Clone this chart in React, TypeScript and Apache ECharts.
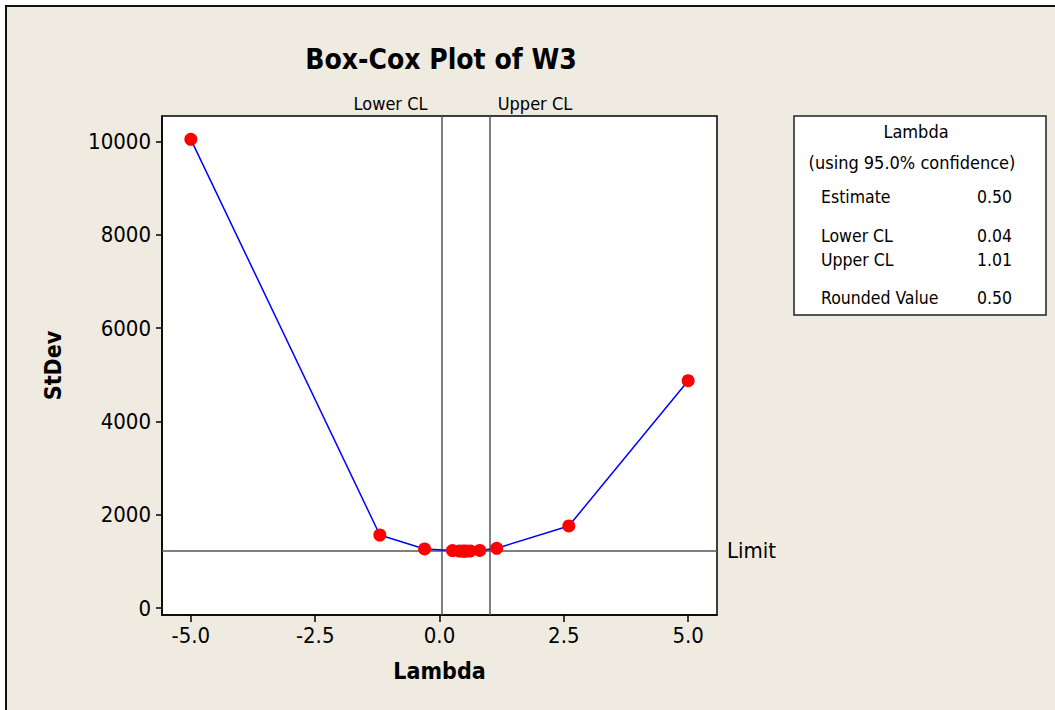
import React, { useEffect, useRef } from "react";
import * as echarts from "echarts";

const lambdas = [-5.0, -1.2, -0.3, 0.26, 0.4, 0.47, 0.5, 0.54, 0.62, 0.81, 1.15, 2.6, 5.0];
const stdevs = [10047, 1565, 1265, 1232, 1222, 1220, 1219, 1220, 1224, 1235, 1280, 1758, 4872];
const xTicks = [-5, -2.5, 0, 2.5, 5];
const yTicks = [0, 2000, 4000, 6000, 8000, 10000];
const lowerCL = 0.04;
const upperCL = 1.01;
const limitValue = 1232;
const statLabels = ["Estimate", "Lower CL", "Upper CL", "Rounded Value"];
const statValues = ["0.50", "0.04", "1.01", "0.50"];

const FONT = "'DejaVu Sans Condensed', 'DejaVu Sans', sans-serif";
const BOXFONT = "'DejaVu Sans Condensed', 'DejaVu Sans', sans-serif";

export default function App() {
  const ref = useRef<HTMLDivElement>(null);
  useEffect(() => {
    document.body.style.margin = "0";
    const chart = echarts.init(ref.current!, null, { renderer: "svg" });
    const statY = [197, 236, 260, 298];
    const option: any = {
      animation: false,
      backgroundColor: "#ffffff",
      title: {
        text: "Box-Cox Plot of W3",
        left: 436,
        top: 40,
        textAlign: "center",
        textStyle: { fontFamily: FONT, fontWeight: "bold", fontSize: 28, color: "#000" },
      },
      graphic: [
        {
          type: "rect",
          z: -10,
          silent: true,
          shape: { x: 6, y: 6, width: 1100, height: 800 },
          style: { fill: "#EFEBE1", stroke: "#111", lineWidth: 2 },
        },
        {
          type: "rect",
          shape: { x: 794, y: 116, width: 252, height: 199 },
          style: { fill: "#ffffff", stroke: "#222", lineWidth: 1.5 },
        },
        {
          type: "text",
          x: 916,
          y: 131,
          style: { text: "Lambda", fontFamily: BOXFONT, fontSize: 18, fill: "#000", align: "center", verticalAlign: "middle" },
        },
        {
          type: "text",
          x: 912,
          y: 162,
          style: { text: "(using 95.0% confidence)", fontFamily: BOXFONT, fontSize: 18, fill: "#000", align: "center", verticalAlign: "middle" },
        },
        ...statLabels.map((t, i) => ({
          type: "text",
          x: 821,
          y: statY[i],
          style: { text: t, fontFamily: BOXFONT, fontSize: 17.5, fill: "#000", align: "left", verticalAlign: "middle" },
        })),
        ...statValues.map((t, i) => ({
          type: "text",
          x: 1012,
          y: statY[i],
          style: { text: t, fontFamily: BOXFONT, fontSize: 17.5, fill: "#000", align: "right", verticalAlign: "middle" },
        })),
      ],
      grid: {
        left: 162,
        top: 116,
        width: 555,
        height: 499,
        show: true,
        backgroundColor: "#ffffff",
        borderColor: "#000",
        borderWidth: 1.5,
      },
      xAxis: {
        type: "value",
        min: -5.58,
        max: 5.58,
        name: "Lambda",
        nameLocation: "middle",
        nameGap: 44,
        nameTextStyle: { fontFamily: FONT, fontWeight: "bold", fontSize: 23, color: "#000" },
        splitLine: { show: false },
        axisLine: { onZero: false, lineStyle: { color: "#000", width: 1.5 } },
        axisTick: { show: true, length: 7, customValues: xTicks, lineStyle: { color: "#000", width: 1.5 } },
        axisLabel: {
          customValues: xTicks,
          formatter: (v: number) => v.toFixed(1),
          fontFamily: FONT,
          fontSize: 22,
          color: "#000",
          margin: 9,
        },
      },
      yAxis: {
        type: "value",
        min: -150,
        max: 10547,
        name: "StDev",
        nameLocation: "middle",
        nameRotate: 90,
        nameGap: 98,
        nameTextStyle: { fontFamily: FONT, fontWeight: "bold", fontSize: 23, color: "#000" },
        splitLine: { show: false },
        axisLine: { show: true, onZero: false, lineStyle: { color: "#000", width: 1.5 } },
        axisTick: { show: true, length: 6, customValues: yTicks, lineStyle: { color: "#000", width: 1.5 } },
        axisLabel: {
          customValues: yTicks,
          formatter: (v: number) => String(v),
          fontFamily: FONT,
          fontSize: 22,
          color: "#000",
          margin: 11,
        },
      },
      series: [
        {
          type: "line",
          data: lambdas.map((l, i) => [l, stdevs[i]]),
          symbol: "circle",
          symbolSize: 13,
          lineStyle: { color: "#0000FF", width: 1.5 },
          itemStyle: { color: "#FF0000" },
          z: 5,
          markLine: {
            silent: true,
            symbol: "none",
            z: 3,
            lineStyle: { color: "#555", width: 1.5, type: "solid" },
            data: [
              {
                xAxis: lowerCL,
                label: { show: true, position: "end", formatter: "Lower CL", align: "right", offset: [-14, 0], fontFamily: FONT, fontSize: 18, color: "#000", distance: 4 },
              },
              {
                xAxis: upperCL,
                label: { show: true, position: "end", formatter: "Upper CL", align: "left", offset: [8, 0], fontFamily: FONT, fontSize: 18, color: "#000", distance: 4 },
              },
              {
                yAxis: limitValue,
                label: { show: true, position: "end", formatter: "Limit", fontFamily: FONT, fontSize: 22, color: "#000", distance: 10 },
              },
            ],
          },
        },
      ],
    };
    chart.setOption(option);
    return () => chart.dispose();
  }, []);
  return <div ref={ref} style={{ width: 1055, height: 710 }} />;
}
